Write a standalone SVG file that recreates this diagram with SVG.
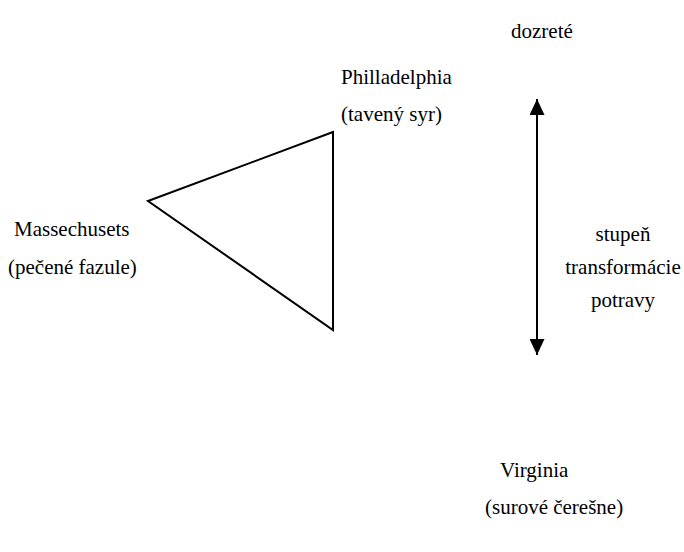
<svg xmlns="http://www.w3.org/2000/svg" width="684" height="552" viewBox="0 0 684 552">
<style>
.t{font-family:'Liberation Serif','Times New Roman',Times,serif;font-size:21px;fill:#000}
.ln{stroke:#000;stroke-width:2;fill:none}
</style>
<defs>
<marker id="ah" viewBox="0 0 16 15" refX="16" refY="7.5" markerWidth="16" markerHeight="15" markerUnits="userSpaceOnUse" orient="auto"><path d="M0,0 L16,7.5 L0,15 Z" fill="#000"/></marker>
</defs>
<rect width="684" height="552" fill="#fff"/>
<g id="connectors">
<polygon class="ln" points="148,201 333,132 333,330"/>
<line class="ln" x1="537" y1="228" x2="537" y2="99" marker-end="url(#ah)"/>
<line class="ln" x1="537" y1="228" x2="537" y2="355" marker-end="url(#ah)"/>
</g>
<g class="t" font-family="Liberation Serif, serif">
<g id="dozrete"><text x="511" y="38">dozreté</text></g>
<g id="philladelphia"><text x="341" y="84">Philladelphia</text><text x="341" y="121">(tavený syr)</text></g>
<g id="massechusets"><text x="14" y="236">Massechusets</text><text x="8" y="274">(pečené fazule)</text></g>
<g id="stupen"><text x="623" y="241" text-anchor="middle">stupeň</text><text x="623" y="274" text-anchor="middle">transformácie</text><text x="623" y="307" text-anchor="middle">potravy</text></g>
<g id="virginia"><text x="500" y="477">Virginia</text><text x="485" y="514">(surové čerešne)</text></g>
</g>
</svg>
